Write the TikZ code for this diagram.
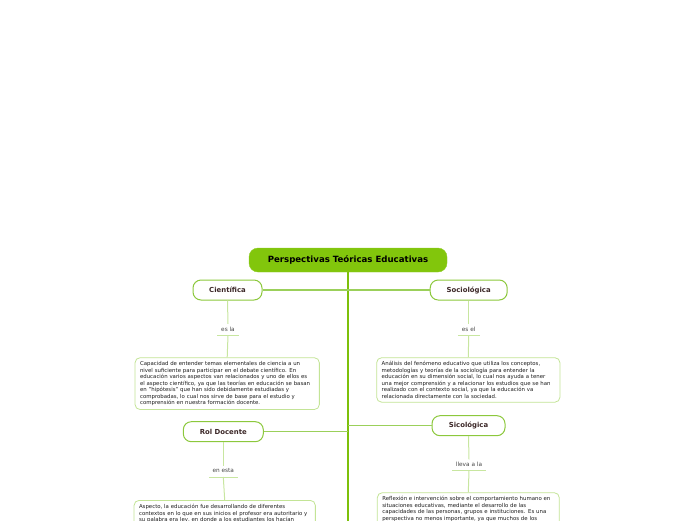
\documentclass[tikz,border=0pt]{standalone}
\usepackage{fontspec}
\setmainfont{DejaVu Sans}
\definecolor{titlefill}{RGB}{130,198,12}
\definecolor{trunkc}{RGB}{125,192,10}
\definecolor{nodeborder}{RGB}{140,200,60}
\definecolor{connc}{RGB}{155,208,90}
\definecolor{boxborder}{RGB}{195,228,150}
\definecolor{labline}{RGB}{200,230,160}
\definecolor{nodetext}{RGB}{60,40,40}
\definecolor{bodytext}{RGB}{30,30,30}
\definecolor{labtext}{RGB}{70,70,70}
\tikzset{
  titlebox/.style={rectangle, rounded corners=9pt, fill=titlefill, draw=titlefill!90!white,
    minimum width=198pt, minimum height=24pt, inner sep=0pt,
    font=\fontsize{8.6}{10}\selectfont\bfseries, text=black},
  topic/.style={rectangle, rounded corners=8pt, draw=nodeborder, line width=1pt, fill=white,
    minimum height=20pt, inner sep=0pt,
    font=\fontsize{6.9}{8}\selectfont\bfseries, text=nodetext},
  descbox/.style={rectangle, rounded corners=5pt, draw=boxborder, line width=0.8pt, fill=white,
    align=left, inner xsep=5pt, inner ysep=3.8pt,
    font=\fontsize{5.4}{6.5}\selectfont, text=bodytext},
  linklabel/.style={rectangle, inner xsep=0pt, inner ysep=3pt, text height=4pt, text depth=1pt,
    font=\fontsize{5.8}{7}\selectfont, text=labtext},
  trunk/.style={draw=trunkc, line width=2pt},
  conn/.style={draw=connc, line width=1.5pt},
  labconn/.style={draw=labline, line width=1pt},
}
\begin{document}
\begin{tikzpicture}[x=1pt,y=-1pt]
\useasboundingbox (0,0) rectangle (696,520);
\clip (0,0) rectangle (696,520);

% title
\node[titlebox] (title) at (348,260) {Perspectivas Teóricas Educativas};
\coordinate (bottom) at (348,530);

% topics
\node[topic, minimum width=69pt] (cient) at (227.5,290) {Científica};
\node[topic, minimum width=77pt] (socio) at (468.7,290) {Sociológica};
\node[topic, minimum width=80pt] (rol) at (223.3,431.7) {Rol Docente};
\node[topic, minimum width=73pt] (sico) at (468.5,425.7) {Sicológica};

% trunk and branches
\draw[trunk] (title.south) -- (bottom);
\draw[conn] (cient.east) -- (cient.east -| title.south);
\draw[conn] (socio.west -| title.south) -- (socio.west);
\draw[conn] (rol.east) -- (rol.east -| title.south);
\draw[conn] (sico.west -| title.south) -- (sico.west);

% link labels
\node[linklabel, anchor=south, minimum width=21.4pt] (l1) at (228,335.3) {es la};
\node[linklabel, anchor=south, minimum width=21.4pt] (l2) at (468.7,335.3) {es el};
\node[linklabel, anchor=south, minimum width=28.3pt] (l3) at (223.3,477) {en esta};
\node[linklabel, anchor=south, minimum width=33.4pt] (l4) at (469,470.7) {lleva a la};
\foreach \l in {l1,l2,l3,l4} {\draw[labconn] (\l.south west) -- (\l.south east);}

% description boxes
\node[descbox, anchor=north, text width=174.3pt] (d1) at (227.2,357.3) {Capacidad de entender temas elementales de ciencia a un\\
nivel suficiente para participar en el debate científico. En\\
educación varios aspectos van relacionados y uno de ellos es\\
el aspecto científico, ya que las teorías en educación se basan\\
en "hipótesis" que han sido debidamente estudiadas y\\
comprobadas, lo cual nos sirve de base para el estudio y\\
comprensión en nuestra formación docente.};
\node[descbox, anchor=north, text width=173.3pt] (d2) at (468.3,357.3) {Análisis del fenómeno educativo que utiliza los conceptos,\\
metodologías y teorías de la sociología para entender la\\
educación en su dimensión social, lo cual nos ayuda a tener\\
una mejor comprensión y a relacionar los estudios que se han\\
realizado con el contexto social, ya que la educación va\\
relacionada directamente con la sociedad.};
\node[descbox, anchor=north, text width=171.3pt, text depth=30pt] (d3) at (224.7,500) {Aspecto, la educación fue desarrollando de diferentes\\
contextos en lo que en sus inicios el profesor era autoritario y\\
su palabra era ley, en donde a los estudiantes los hacían};
\node[descbox, anchor=north, text width=172pt, text depth=30pt] (d4) at (468.3,492.3) {Reflexión e intervención sobre el comportamiento humano en\\
situaciones educativas, mediante el desarrollo de las\\
capacidades de las personas, grupos e instituciones. Es una\\
perspectiva no menos importante, ya que muchos de los};

% label connectors
\draw[labconn] (cient.south) -- (l1.north);
\draw[labconn] (l1.south) -- (d1.north);
\draw[labconn] (socio.south) -- (l2.north);
\draw[labconn] (l2.south) -- (d2.north);
\draw[labconn] (rol.south) -- (l3.north);
\draw[labconn] (l3.south) -- (d3.north);
\draw[labconn] (sico.south) -- (l4.north);
\draw[labconn] (l4.south) -- (d4.north);
\end{tikzpicture}
\end{document}
